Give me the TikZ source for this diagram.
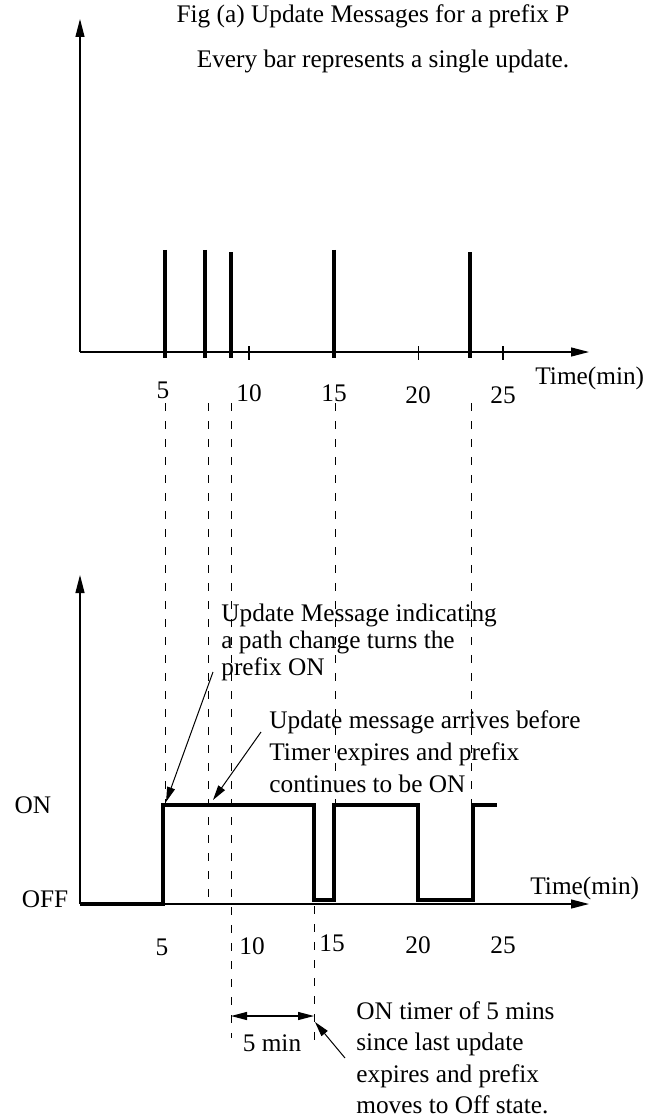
\documentclass[tikz,border=0pt]{standalone}
\usepackage{fontspec}
\setmainfont{Liberation Serif}
\usetikzlibrary{arrows.meta}
\begin{document}
\begin{tikzpicture}[x=0.5pt,y=-0.5pt,
  txt/.style={inner sep=0pt, font=\fontsize{12.65}{15}\selectfont},
  axisline/.style={line width=0.6pt, -{Triangle[length=9pt,width=4.5pt]}},
  barline/.style={line width=2pt},
  sigline/.style={line width=2pt, line join=miter},
  guide/.style={line width=0.5pt, dash pattern=on 4pt off 5pt},
  tickline/.style={line width=0.6pt},
  note/.style={line width=0.5pt, -{Triangle[length=7.5pt,width=4pt]}},
  dimline/.style={line width=0.6pt, {Triangle[length=8pt,width=4pt]}-{Triangle[length=8pt,width=4pt]}},
]
\useasboundingbox (0,0) rectangle (657,1117);

% ---------- titles ----------
\node[txt] (title) at (373,16) {Fig (a) Update Messages for a prefix P};
\node[txt] (subtitle) at (383,61) {Every bar represents a single update.};

% ---------- top plot ----------
\coordinate (o1) at (80,352);
\coordinate (y1) at (80,19);
\coordinate (x1) at (589,352);
\draw[axisline] (o1) -- (y1);
\draw[axisline] (o1) -- (x1);

\foreach \n/\x/\t in {a/164.5/250, b/205/250, c/230.5/252.5, d/334/250, e/470/252.5}{
  \coordinate (bar\n t) at (\x,\t);
  \coordinate (bar\n b) at (\x,358);
  \draw[barline] (bar\n t) -- (bar\n b);
}
\foreach \n/\x in {p/249,q/418.5,r/503}{
  \coordinate (tick\n t) at (\x,346);
  \coordinate (tick\n b) at (\x,360);
  \draw[tickline] (tick\n t) -- (tick\n b);
}

\node[txt] (l5a)  at (163,390) {5};
\node[txt] (l10a) at (249,393) {10};
\node[txt] (l15a) at (334,393) {15};
\node[txt] (l20a) at (418,395) {20};
\node[txt] (l25a) at (503,395) {25};
\node[txt, anchor=west] (timea) at (535,378) {Time(min)};

% ---------- lower plot ----------
\coordinate (o2) at (80,904);
\coordinate (y2) at (80,575);
\coordinate (x2) at (589,904);
\draw[axisline] (o2) -- (y2);
\draw[axisline] (o2) -- (x2);

\node[txt] (on)  at (33,805) {ON};
\node[txt] (off) at (45,899) {OFF};

\draw[sigline] (80,904) -- (163,904) -- (163,805) -- (314,805) -- (314,900)
  -- (334,900) -- (334,805) -- (418,805) -- (418,900) -- (473,900) -- (473,805) -- (497,805);

\node[txt] (l5b)  at (162,947) {5};
\node[txt] (l10b) at (252,946) {10};
\node[txt] (l15b) at (332,943) {15};
\node[txt] (l20b) at (418,945) {20};
\node[txt] (l25b) at (503,945) {25};
\node[txt, anchor=west] (timeb) at (530,888) {Time(min)};

% ---------- dashed guides ----------
\draw[guide] (165,403) -- (165,805);
\draw[guide] (208,403) -- (208,904);
\draw[guide] (231,403) -- (231,1038);
\draw[guide] (335,403) -- (335,805);
\draw[guide] (471,403) -- (471,900);
\draw[guide] (314,906) -- (314,1040);

% ---------- annotations ----------
\node[txt, anchor=north west, align=left, font=\fontsize{12.65}{13.5}\selectfont] (n1) at (221,604)
  {Update Message indicating\\a path change turns the\\prefix ON};
\node[txt, anchor=north west, align=left, font=\fontsize{12.65}{16}\selectfont] (n2) at (269,710)
  {Update message arrives before\\Timer expires and prefix\\continues to be ON};
\node[txt, anchor=north west, align=left, font=\fontsize{12.65}{15.75}\selectfont] (n3) at (356,1001)
  {ON timer of 5 mins\\since last update\\expires and prefix\\moves to Off state.};

\coordinate (a1s) at (213,672);
\coordinate (a1e) at (166,802);
\coordinate (a2s) at (261,732);
\coordinate (a2e) at (213,800);
\coordinate (a3s) at (345,1058);
\coordinate (a3e) at (315,1022);
\draw[note] (a1s) -- (a1e);
\draw[note] (a2s) -- (a2e);
\draw[note] (a3s) -- (a3e);

\coordinate (d1) at (231,1016);
\coordinate (d2) at (314,1016);
\draw[dimline] (d1) -- (d2);
\node[txt] (fivemin) at (272,1043) {5 min};
\end{tikzpicture}
\end{document}
